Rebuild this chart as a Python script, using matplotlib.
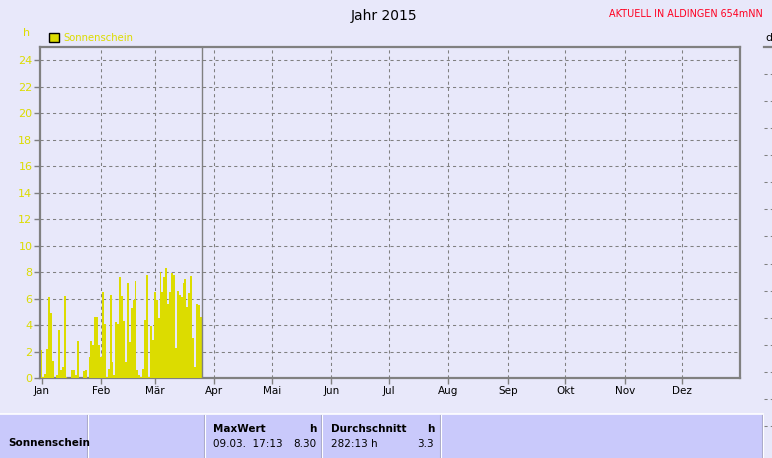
import matplotlib
matplotlib.use("Agg")
import matplotlib.pyplot as plt
from matplotlib.patches import Patch, Rectangle
from matplotlib.lines import Line2D

# ---------------- data ----------------
title = "Jahr 2015"
station = "AKTUELL IN ALDINGEN 654mNN"
series_name = "Sonnenschein"
unit = "h"

month_labels = ["Jan", "Feb", "Mär", "Apr", "Mai", "Jun", "Jul", "Aug", "Sep", "Okt", "Nov", "Dez"]
month_start_day = [0, 31, 59, 90, 120, 151, 181, 212, 243, 273, 304, 334]

sunshine_hours = [
    # January (days 0-29)
    2.1, 0.1, 0.3, 2.2, 6.1, 4.9, 1.3, 0.0, 0.2, 3.6, 0.6, 0.8, 6.2, 0.1, 0.0,
    0.0, 0.6, 0.6, 0.2, 2.8, 0.0, 0.0, 0.5, 0.6, 0.0, 1.6, 2.8, 2.5, 4.6, 4.6,
    # days 30-56
    2.5, 1.6, 6.5, 4.1, 0.1, 0.7, 6.3, 1.2, 0.2, 4.2, 4.1, 7.6, 6.2, 4.3, 1.2,
    7.2, 2.7, 5.3, 5.9, 7.3, 0.6, 0.25, 0.1, 0.7, 4.4, 7.8, 0.1,
    # days 57-83
    3.9, 2.9, 6.5, 5.9, 4.5, 8.0, 6.5, 7.6, 8.3, 5.6, 6.5, 7.9, 7.8, 2.3, 6.6,
    6.3, 6.1, 7.2, 7.5, 5.4, 6.4, 7.7, 3.0, 0.8, 5.6, 5.5, 4.6,
]
days = list(range(len(sunshine_hours)))
today_day = 83.8

y_ticks = [0, 2, 4, 6, 8, 10, 12, 14, 16, 18, 20, 22, 24]

table_max_label = "MaxWert"
table_max_date = "09.03.  17:13"
table_max_value = "8.30"
table_avg_label = "Durchschnitt"
table_avg_total = "282:13 h"
table_avg_value = "3.3"

# ---------------- style ----------------
W, H = 772, 458
BG = "#E8E8FA"
TABLE_BG = "#C9C9FB"
YELLOW = "#DCDC00"
GRAY = "#808080"
DASH = (0, (3, 3))

fig = plt.figure(figsize=(W / 100, H / 100), dpi=100, facecolor=BG)


def fx(px):
    return px / W


def fy(py):
    return 1 - py / H


# main axes
ax = fig.add_axes([fx(40), fy(378), fx(700), (378 - 47) / H], facecolor=BG)
ax.bar(days, sunshine_hours, width=1.0, color=YELLOW, linewidth=0, zorder=3)
ax.axvline(today_day, color=GRAY, lw=1.0, zorder=4)

ax.set_xlim(-0.8, 364.1)
ax.set_ylim(0, 25)
ax.set_yticks(y_ticks)
ax.set_yticklabels([str(v) for v in y_ticks], color=YELLOW, fontsize=8)
ax.set_xticks(month_start_day)
ax.set_xticklabels(month_labels, fontsize=7.5, color="black")
ax.tick_params(axis="y", direction="out", length=4, width=1, color=GRAY, pad=1.5)
ax.tick_params(axis="x", direction="out", length=4, width=1, color=GRAY, pad=2)
for s in ax.spines.values():
    s.set_color(GRAY)
    s.set_linewidth(1.6)
ax.grid(True, axis="y", color=GRAY, linestyle=DASH, linewidth=0.75, zorder=1)
for d in month_start_day[1:]:
    ax.axvline(d, color=GRAY, linestyle=DASH, linewidth=0.75, zorder=1)
ax.set_axisbelow(True)

# second (cut-off) chart on the right
ax2 = fig.add_axes([fx(764), fy(453), 0.5, (453 - 47) / H], facecolor=BG)
ax2.set_ylim(0, 15)
ax2.set_xlim(0, 1)
ax2.set_yticks(range(1, 15))
ax2.set_xticks([])
ax2.tick_params(axis="y", length=0, labelleft=False)
for k, s in ax2.spines.items():
    s.set_visible(k == "top")
ax2.spines["top"].set_color(GRAY)
ax2.spines["top"].set_linewidth(1.6)
ax2.grid(True, axis="y", color=GRAY, linestyle=DASH, linewidth=0.75)
fig.text(fx(765), fy(38), "d", fontsize=8, color="black", va="center", ha="left")

# titles and labels
fig.text(fx(384), fy(16), title, fontsize=10, ha="center", va="center", color="black")
fig.text(fx(763), fy(14), station, fontsize=6.9, ha="right", va="center", color="#FF0020")
fig.text(fx(27), fy(33), unit, fontsize=8, ha="center", va="center", color=YELLOW)

leg = fig.legend(handles=[Patch(facecolor=YELLOW, edgecolor="black", linewidth=1.0)],
                 labels=[series_name], loc="center left",
                 bbox_to_anchor=(fx(49), fy(38)), frameon=False, fontsize=7.2,
                 handlelength=0.95, handleheight=0.95, handletextpad=0.45,
                 borderaxespad=0, borderpad=0)
for t in leg.get_texts():
    t.set_color(YELLOW)

# bottom table
fig.add_artist(Rectangle((0, 0), fx(763), (458 - 414) / H, transform=fig.transFigure,
                         facecolor=TABLE_BG, edgecolor="none"))
fig.add_artist(Line2D([0, fx(763)], [fy(414), fy(414)], transform=fig.transFigure,
                      color="white", lw=1.2))
for xs in [88, 205, 322, 441, 763]:
    fig.add_artist(Line2D([fx(xs - 1), fx(xs - 1)], [0, fy(415)], transform=fig.transFigure,
                          color="#A8A8C8", lw=0.8))
    fig.add_artist(Line2D([fx(xs), fx(xs)], [0, fy(415)], transform=fig.transFigure,
                          color="white", lw=0.8))

tf = dict(fontsize=7.5, va="center", color="black")
fig.text(fx(8), fy(443), series_name, fontweight="bold", ha="left", **tf)
fig.text(fx(213), fy(429), table_max_label, fontweight="bold", ha="left", **tf)
fig.text(fx(316), fy(429), unit, fontweight="bold", ha="right", **tf)
fig.text(fx(213), fy(444), table_max_date, ha="left", **tf)
fig.text(fx(316), fy(444), table_max_value, ha="right", **tf)
fig.text(fx(331), fy(429), table_avg_label, fontweight="bold", ha="left", **tf)
fig.text(fx(434), fy(429), unit, fontweight="bold", ha="right", **tf)
fig.text(fx(331), fy(444), table_avg_total, ha="left", **tf)
fig.text(fx(434), fy(444), table_avg_value, ha="right", **tf)

fig.savefig("out.png", dpi=100, facecolor=BG)
